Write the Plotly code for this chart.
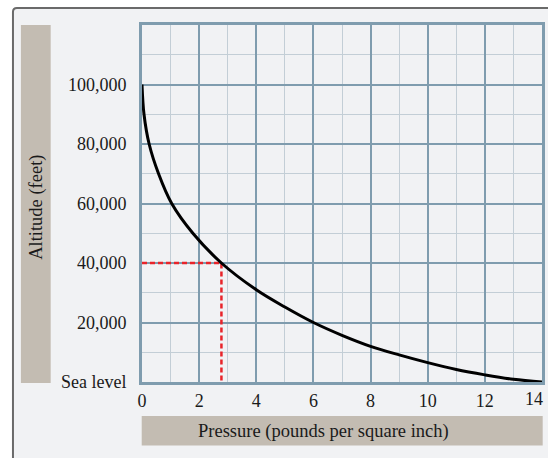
import plotly.graph_objects as go

# ---- data ----
pressure_psi = [0, 0.07, 0.25, 0.58, 1.04, 1.78, 2.78, 4, 5, 6, 7, 8, 9, 10, 11, 12, 13, 14]
altitude_ft = [100000, 90000, 80000, 70000, 60000, 50000, 40000, 31000, 25200,
               20000, 15700, 12000, 9100, 6500, 4200, 2400, 900, 0]
x_tick_vals = [0, 2, 4, 6, 8, 10, 12, 14]
y_tick_vals = [0, 20000, 40000, 60000, 80000, 100000]
y_tick_text = ["Sea level", "20,000", "40,000", "60,000", "80,000", "100,000"]
marker_pressure = 2.78
marker_altitude = 40000
x_title = "Pressure (pounds per square inch)"
y_title = "Altitude (feet)"

# ---- layout geometry (pixels) ----
W, H = 548, 458
L, R, T, B = 142, 3, 25, 76
PW, PH = W - L - R, H - T - B


def px(x):
    return (x - L) / PW


def py(y):
    return (H - B - y) / PH


FONT = "Liberation Serif"
MAJOR = "#7f9cae"
MINOR = "#c3ced6"
TAN = "#c3bcb2"
TXT = "#1a1a1a"

fig = go.Figure()

fig.add_trace(go.Scatter(
    x=[0, marker_pressure, marker_pressure],
    y=[marker_altitude, marker_altitude, 0],
    mode="lines",
    line=dict(color="#e8242a", width=2.5, dash="5px,3px"),
    hoverinfo="skip", showlegend=False,
))
fig.add_trace(go.Scatter(
    x=pressure_psi, y=altitude_ft, mode="lines",
    line=dict(color="black", width=3, shape="spline", smoothing=1),
    showlegend=False,
))

# outer frame with rounded top-left corner
fx0, fy0, fx1, fy1, rr = 12, 8, 600, 520, 4
frame_path = (
    f"M {px(fx0)},{py(fy1)} L {px(fx0)},{py(fy0 + rr)} "
    f"Q {px(fx0)},{py(fy0)} {px(fx0 + rr)},{py(fy0)} "
    f"L {px(fx1)},{py(fy0)} L {px(fx1)},{py(fy1)} Z"
)

shapes = [
    dict(type="path", xref="paper", yref="paper", layer="below", path=frame_path,
         fillcolor="#f1f2f4", line=dict(color="#6a6a6a", width=2)),
    dict(type="rect", xref="paper", yref="paper", layer="below",
         x0=px(20), x1=px(50), y0=py(25), y1=py(383),
         fillcolor=TAN, line=dict(width=0)),
    dict(type="rect", xref="paper", yref="paper", layer="below",
         x0=px(141.7), x1=px(545.7), y0=py(416), y1=py(445.5),
         fillcolor=TAN, line=dict(width=0)),
]

annotations = [
    dict(text=y_title, xref="paper", yref="paper", x=px(35), y=py(207),
         showarrow=False, textangle=-90, xanchor="center", yanchor="middle",
         font=dict(family=FONT, size=18.5, color=TXT)),
    dict(text=x_title, xref="paper", yref="paper", x=px(325), y=py(431),
         showarrow=False, xanchor="center", yanchor="middle",
         font=dict(family=FONT, size=18.5, color=TXT)),
    # last x tick label, nudged inward so it stays inside the page
    dict(text=str(x_tick_vals[-1]), xref="x", yref="paper", x=x_tick_vals[-1],
         y=py(399), xshift=-8, showarrow=False, xanchor="center", yanchor="middle",
         font=dict(family=FONT, size=18, color=TXT)),
]

fig.update_layout(
    width=W, height=H,
    margin=dict(l=L, r=R, t=T, b=B, pad=0),
    paper_bgcolor="white",
    plot_bgcolor="white",
    shapes=shapes,
    annotations=annotations,
    font=dict(family=FONT, size=18, color=TXT),
    xaxis=dict(
        range=[0, 14], tickvals=x_tick_vals[:-1], ticks="",
        showgrid=True, gridcolor=MAJOR, gridwidth=2,
        minor=dict(tickmode="linear", tick0=0, dtick=1, showgrid=True,
                   gridcolor=MINOR, gridwidth=1, ticks=""),
        showline=True, mirror=True, linecolor=MAJOR, linewidth=3,
        zeroline=False, ticklabelstandoff=0,
        tickfont=dict(family=FONT, size=18),
    ),
    yaxis=dict(
        range=[0, 120000], tickvals=y_tick_vals, ticktext=y_tick_text, ticks="",
        showgrid=True, gridcolor=MAJOR, gridwidth=2,
        minor=dict(tickmode="linear", tick0=0, dtick=10000, showgrid=True,
                   gridcolor=MINOR, gridwidth=1, ticks=""),
        showline=True, mirror=True, linecolor=MAJOR, linewidth=3,
        zeroline=False, ticklabelstandoff=9,
        tickfont=dict(family=FONT, size=18),
    ),
)

fig.write_html(
    "out.html",
    config={"displayModeBar": False},
    post_script="document.body.style.margin='0';document.body.style.padding='0';"
                "document.body.style.overflow='hidden';",
)
